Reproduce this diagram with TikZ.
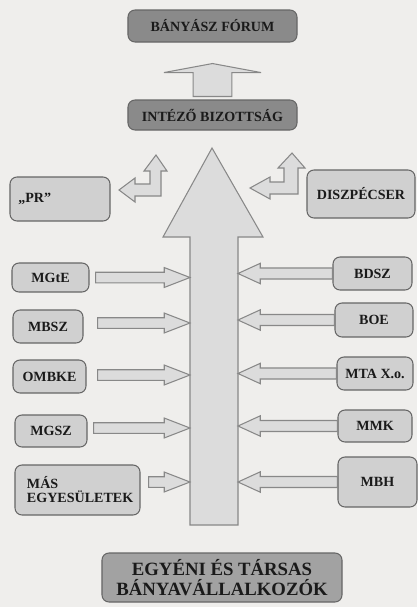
\documentclass[tikz,border=0pt]{standalone}
\usepackage{fontspec}
\setmainfont{Liberation Serif}
\usetikzlibrary{calc,positioning}
\definecolor{paperBg}{HTML}{EFEEEC}
\definecolor{boxFill}{HTML}{D0D0D0}
\definecolor{headFill}{HTML}{8A8A8A}
\definecolor{baseFill}{HTML}{A2A2A2}
\definecolor{boxLine}{HTML}{666666}
\definecolor{arrowFill}{HTML}{DCDCDC}
\definecolor{arrowLine}{HTML}{888888}
\definecolor{inkGray}{HTML}{1A1A1A}

\begin{document}
\begin{tikzpicture}[
    x=0.03cm,
    y=-0.03cm,
    every node/.style={font=\bfseries\fontsize{12}{12}\selectfont, text=inkGray},
    box/.style={
        draw=boxLine,
        fill=boxFill,
        rounded corners=6pt,
        line width=0.9pt,
        align=center,
        inner sep=2pt
    },
    darkbox/.style={box, fill=headFill, minimum width=5.07cm},
    fatarrow/.style={draw=arrowLine, fill=arrowFill, line width=0.9pt, line join=miter},
    rarrow/.style={fatarrow, to path={let \p1=(\tikztostart), \p2=(\tikztotarget) in
        (\x1,\y1+4.5pt) -- (\x2-22pt,\y1+4.5pt) -- (\x2-22pt,\y1+8.5pt) -- (\x2,\y1)
        -- (\x2-22pt,\y1-8.5pt) -- (\x2-22pt,\y1-4.5pt) -- (\x1,\y1-4.5pt) -- cycle}},
    larrow/.style={fatarrow, to path={let \p1=(\tikztostart), \p2=(\tikztotarget) in
        (\x1,\y1+4.7pt) -- (\x2+19pt,\y1+4.7pt) -- (\x2+19pt,\y1+8.7pt) -- (\x2,\y1)
        -- (\x2+19pt,\y1-8.7pt) -- (\x2+19pt,\y1-4.7pt) -- (\x1,\y1-4.7pt) -- cycle}},
    uparrow/.style={fatarrow, to path={let \p1=(\tikztostart), \p2=(\tikztotarget) in
        (\x1-16.6pt,\y1) -- (\x1-16.6pt,\y2-7.7pt) -- (\x1-41.4pt,\y2-7.7pt) -- (\x1,\y2)
        -- (\x1+41.4pt,\y2-7.7pt) -- (\x1+16.6pt,\y2-7.7pt) -- (\x1+16.6pt,\y1) -- cycle}}
]
  \fill[paperBg] (0,0) rectangle (417,607);

  \node[darkbox, minimum height=0.96cm] (forum) at (212.5,26) {BÁNYÁSZ FÓRUM};
  \node[darkbox, minimum height=0.9cm] (intezo) at (212.5,115) {INTÉZŐ BIZOTTSÁG};

  \node[box, minimum width=3cm, minimum height=1.32cm, text width=2.5cm, align=left] (pr) at (60,199) {„PR”};
  \node[box, minimum width=3.24cm, minimum height=1.44cm] (diszp) at (361,194) {DISZPÉCSER};

  \node[box, minimum width=2.31cm, minimum height=0.87cm] (mgte) at (50.5,277.5) {MGtE};
  \node[box, minimum width=2.1cm, minimum height=0.99cm] (mbsz) at (48,326.5) {MBSZ};
  \node[box, minimum width=2.19cm, minimum height=0.99cm] (ombke) at (49.5,376.5) {OMBKE};
  \node[box, minimum width=2.16cm, minimum height=0.96cm] (mgsz) at (51,431) {MGSZ};
  \node[box, minimum width=3.75cm, minimum height=1.5cm, text width=3.03cm, align=left] (mas) at (77.5,490) {MÁS\\EGYESÜLETEK};

  \node[box, minimum width=2.37cm, minimum height=0.99cm] (bdsz) at (372.5,273.5) {BDSZ};
  \node[box, minimum width=2.34cm, minimum height=1.02cm] (boe) at (374,320) {BOE};
  \node[box, minimum width=2.28cm, minimum height=0.99cm] (mta) at (375,373.5) {MTA X.o.};
  \node[box, minimum width=2.22cm, minimum height=0.96cm] (mmk) at (375,426) {MMK};
  \node[box, minimum width=2.37cm, minimum height=1.5cm] (mbh) at (377.5,482) {MBH};

  \node[box, fill=baseFill, minimum width=7.2cm, minimum height=1.47cm,
  font=\bfseries\fontsize{16}{17}\selectfont] (vallalk) at (222,577.5) {EGYÉNI ÉS TÁRSAS\\BÁNYAVÁLLALKOZÓK};

  \draw[fatarrow] (190,525) -- (190,237) -- (163,237) -- (212,148) -- (263,237)
  -- (238,237) -- (238,525) -- cycle;
  \coordinate (shaftL) at (190,380);
  \coordinate (shaftR) at (238,380);

  \draw[uparrow] ([yshift=0.09cm]intezo.north) to ([yshift=-0.63cm]forum.south);

  \draw[fatarrow] (156,155) -- (167,171) -- (161,171) -- (161,196) -- (135,196) -- (135,202)
  -- (119,190) -- (135,178) -- (135,184) -- (150,184) -- (150,171) -- (144,171) -- cycle;
  \draw[fatarrow] (292,153) -- (305,168) -- (298,168) -- (298,194) -- (270,194) -- (270,199)
  -- (250,188) -- (270,177) -- (270,182) -- (284,182) -- (284,168) -- (278,168) -- cycle;

  \draw[rarrow] ([xshift=0.18cm]mgte.east) to (shaftL);
  \draw[rarrow] ([shift={(14,-3.5)}]mbsz.east) to (shaftL);
  \draw[rarrow] ([shift={(11,-1.5)}]ombke.east) to (shaftL);
  \draw[rarrow] ([shift={(6,-3)}]mgsz.east) to (shaftL);
  \draw[rarrow] ([shift={(8,-8)}]mas.east) to (shaftL);

  \draw[larrow] (bdsz.west) to (shaftR);
  \draw[larrow] (boe.west) to (shaftR);
  \draw[larrow] (mta.west) to (shaftR);
  \draw[larrow] (mmk.west) to (shaftR);
  \draw[larrow] (mbh.west) to (shaftR);
\end{tikzpicture}
\end{document}
